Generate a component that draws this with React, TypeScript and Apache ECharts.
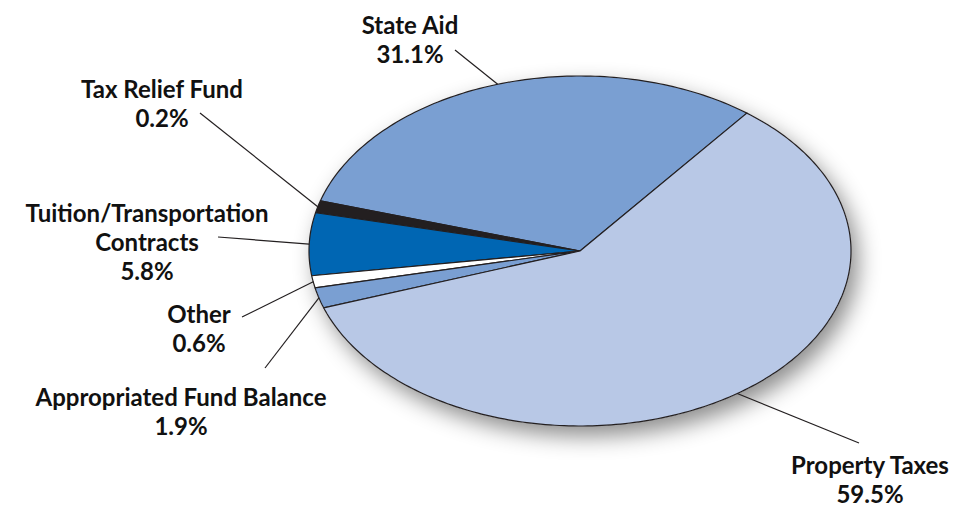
import React, { useEffect, useRef } from "react";
import * as echarts from "echarts";

const categories = [
  "State Aid",
  "Tax Relief Fund",
  "Tuition/Transportation\nContracts",
  "Other",
  "Appropriated Fund Balance",
  "Property Taxes",
];
const values = [31.1, 0.2, 5.8, 0.6, 1.9, 59.5];

// ---- styles / layout ----
const sliceColors = ["#7a9fd2", "#231f20", "#0066b3", "#ffffff", "#7a9fd2", "#b8c8e6"];
const CX = 580;
const CY = 251;
const RX = 271;
const RY = 175;
const START_ANGLE = 52; // degrees, counter-clockwise from east
const MIN_ANGLE = 4;
const FONT = "Lato, 'Open Sans', sans-serif";
// label block centre and leader-line outer end
const labelLayout = [
  { x: 410, y: 38.5, lx: 455, ly: 50 },
  { x: 162, y: 103, lx: 200, ly: 113 },
  { x: 147, y: 241.5, lx: 218, ly: 237 },
  { x: 199, y: 327.5, lx: 242, ly: 317 },
  { x: 181, y: 410.5, lx: 265, ly: 368 },
  { x: 870, y: 479, lx: 859, ly: 443 },
];

function computeAngles(vals: number[]) {
  const total = vals.reduce((a, b) => a + b, 0);
  const raw = vals.map((v) => (v / total) * 360);
  const small = raw.map((a) => a < MIN_ANGLE);
  const fixed = small.filter(Boolean).length * MIN_ANGLE;
  const restSum = vals.reduce((s, v, i) => (small[i] ? s : s + v), 0);
  const spans = vals.map((v, i) => (small[i] ? MIN_ANGLE : (v / restSum) * (360 - fixed)));
  const starts: number[] = [];
  let acc = START_ANGLE;
  spans.forEach((s) => {
    starts.push(acc);
    acc += s;
  });
  return { spans, starts };
}

function pt(aDeg: number): number[] {
  const a = (aDeg * Math.PI) / 180;
  return [CX + RX * Math.cos(a), CY - RY * Math.sin(a)];
}

export default function App() {
  const ref = useRef<HTMLDivElement>(null);
  useEffect(() => {
    if (!ref.current) return;
    const chart = echarts.init(ref.current, null, { renderer: "svg" });
    const { spans, starts } = computeAngles(values);

    const renderItem = (params: any, api: any) => {
      const i = params.dataIndex;
      const v = api.value(0);
      const a0 = starts[i];
      const a1 = a0 + spans[i];
      const n = Math.max(2, Math.ceil(a1 - a0));
      const pts: number[][] = [[CX, CY]];
      for (let k = 0; k <= n; k++) pts.push(pt(a0 + ((a1 - a0) * k) / n));
      const mid = pt((a0 + a1) / 2);
      const lay = labelLayout[i];
      const children: any[] = [];
      if (i === 0) {
        const full: number[][] = [];
        for (let k = 0; k < 360; k++) full.push(pt(k));
        children.push({
          type: "polygon",
          shape: { points: full },
          style: {
            fill: "#ffffff",
            shadowBlur: 22,
            shadowColor: "rgba(0,0,0,0.45)",
            shadowOffsetX: 7,
            shadowOffsetY: 10,
          },
        });
      }
      children.push({
        type: "polygon",
        shape: { points: pts },
        style: { fill: sliceColors[i], stroke: "#231f20", lineWidth: 1.2, lineJoin: "round" },
      });
      children.push({
        type: "line",
        shape: { x1: lay.lx, y1: lay.ly, x2: mid[0], y2: mid[1] },
        style: { stroke: "#231f20", lineWidth: 1.2 },
      });
      children.push({
        type: "text",
        x: lay.x,
        y: lay.y,
        style: {
          text: categories[i] + "\n" + Number(v).toFixed(1) + "%",
          align: "center",
          verticalAlign: "middle",
          fontFamily: FONT,
          fontWeight: "bold",
          fontSize: 24,
          lineHeight: 29,
          fill: "#111111",
        },
      });
      return { type: "group", children };
    };

    chart.setOption({
      animation: false,
      backgroundColor: "#ffffff",
      series: [
        {
          type: "custom",
          coordinateSystem: "none",
          silent: true,
          renderItem,
          data: values.map((v, i) => ({ value: [v], name: categories[i] })),
        },
      ],
    });
    return () => chart.dispose();
  }, []);
  return (
    <div
      ref={ref}
      style={{ position: "absolute", left: 0, top: 0, width: 964, height: 508 }}
    />
  );
}
